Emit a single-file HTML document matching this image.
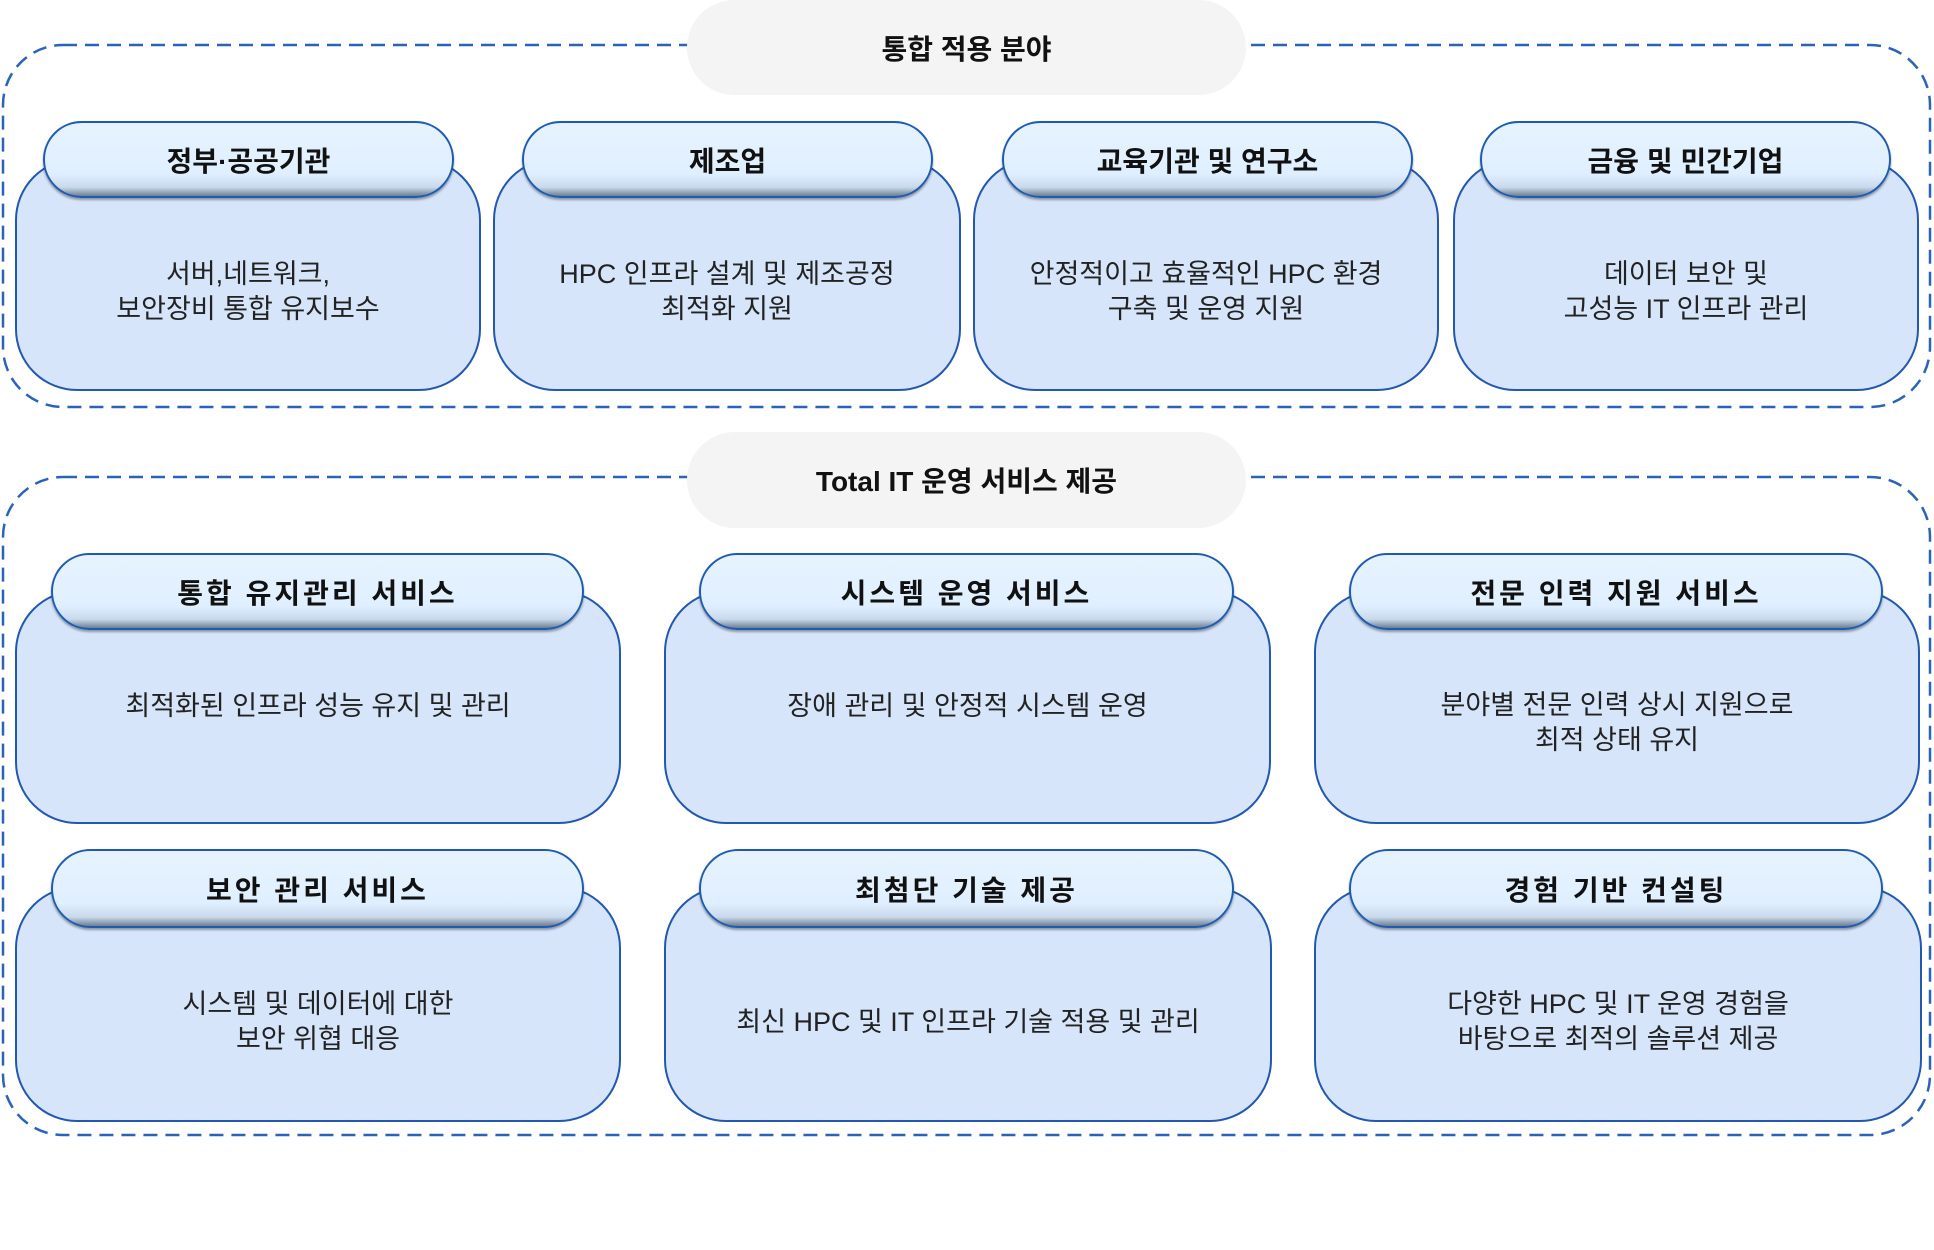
<!DOCTYPE html>
<html><head><meta charset="utf-8"><style>
*{margin:0;padding:0;box-sizing:border-box}
body{width:1934px;height:1250px;background:#fff;position:relative;overflow:hidden;font-family:"Liberation Sans","Noto Sans CJK KR",sans-serif;color:#111}
svg.d{position:absolute;left:0;top:0}
.pill{position:absolute;background:#f4f4f4;border-radius:48px;display:flex;align-items:center;justify-content:center;font-weight:bold;font-size:28px;color:#111}
.body{position:absolute;background:#d6e5fa;border:2.5px solid #2358b0;border-radius:62px;display:flex;align-items:center;justify-content:center;text-align:center;font-size:27px;line-height:35px;color:#222}
.hd{position:absolute;border:2.5px solid #1f5cb0;border-radius:40px;background:linear-gradient(#e6f3ff 0%,#e0efff 70%,#c9d9ec 88%,#6f7f94 100%);display:flex;align-items:center;justify-content:center;font-weight:bold;font-size:28px;color:#111;box-shadow:0 2px 2px rgba(0,0,0,.35)}
.sp{letter-spacing:3px}
</style></head><body>
<svg class="d" width="1934" height="1250">
<rect x="3" y="45" width="1927" height="362" rx="60" fill="none" stroke="#2a63b8" stroke-width="2.5" stroke-dasharray="14 8"/>
<rect x="3" y="477" width="1927" height="658" rx="60" fill="none" stroke="#2a63b8" stroke-width="2.5" stroke-dasharray="14 8"/>
</svg>
<div class="pill" style="left:687px;top:0;width:559px;height:95px">통합 적용 분야</div>

<div class="body" style="left:15px;top:158px;width:466px;height:233px;padding-top:34px">서버,네트워크,<br>보안장비 통합 유지보수</div>
<div class="hd" style="left:43px;top:121px;width:411px;height:77px">정부·공공기관</div>
<div class="body" style="left:493px;top:158px;width:468px;height:233px;padding-top:34px">HPC 인프라 설계 및 제조공정<br>최적화 지원</div>
<div class="hd" style="left:522px;top:121px;width:411px;height:77px">제조업</div>
<div class="body" style="left:973px;top:158px;width:466px;height:233px;padding-top:34px">안정적이고 효율적인 HPC 환경<br>구축 및 운영 지원</div>
<div class="hd" style="left:1002px;top:121px;width:411px;height:77px">교육기관 및 연구소</div>
<div class="body" style="left:1453px;top:158px;width:466px;height:233px;padding-top:34px">데이터 보안 및<br>고성능 IT 인프라 관리</div>
<div class="hd" style="left:1480px;top:121px;width:411px;height:77px">금융 및 민간기업</div>

<div class="pill" style="left:687px;top:432px;width:559px;height:96px">Total IT 운영 서비스 제공</div>

<div class="body" style="left:15px;top:590px;width:606px;height:234px;padding-bottom:2px">최적화된 인프라 성능 유지 및 관리</div>
<div class="hd sp" style="left:51px;top:553px;width:533px;height:77px">통합 유지관리 서비스</div>
<div class="body" style="left:664px;top:590px;width:607px;height:234px;padding-bottom:2px">장애 관리 및 안정적 시스템 운영</div>
<div class="hd sp" style="left:699px;top:553px;width:535px;height:77px">시스템 운영 서비스</div>
<div class="body" style="left:1314px;top:590px;width:606px;height:234px;padding-top:32px">분야별 전문 인력 상시 지원으로<br>최적 상태 유지</div>
<div class="hd sp" style="left:1349px;top:553px;width:534px;height:77px">전문 인력 지원 서비스</div>

<div class="body" style="left:15px;top:886px;width:606px;height:236px;padding-top:36px">시스템 및 데이터에 대한<br>보안 위협 대응</div>
<div class="hd sp" style="left:51px;top:849px;width:533px;height:79px">보안 관리 서비스</div>
<div class="body" style="left:664px;top:886px;width:608px;height:236px;padding-top:36px">최신 HPC 및 IT 인프라 기술 적용 및 관리</div>
<div class="hd sp" style="left:699px;top:849px;width:535px;height:79px">최첨단 기술 제공</div>
<div class="body" style="left:1314px;top:886px;width:608px;height:236px;padding-top:36px">다양한 HPC 및 IT 운영 경험을<br>바탕으로 최적의 솔루션 제공</div>
<div class="hd sp" style="left:1349px;top:849px;width:534px;height:79px">경험 기반 컨설팅</div>
</body></html>
